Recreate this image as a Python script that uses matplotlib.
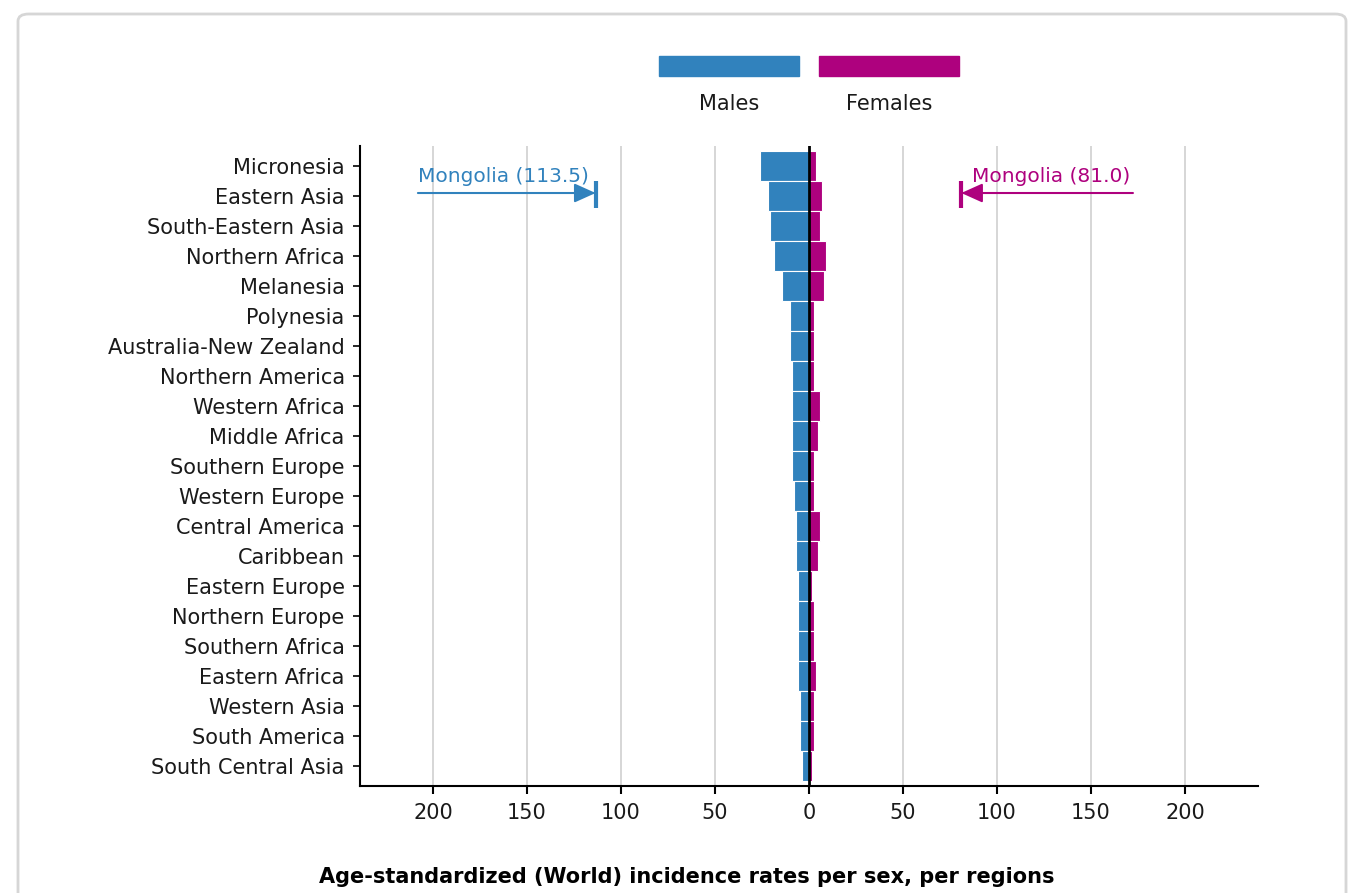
import matplotlib
matplotlib.use("Agg")
import matplotlib.pyplot as plt
from matplotlib.patches import FancyBboxPatch, Rectangle
import numpy as np

plt.rcParams['font.family'] = ['DejaVu Sans']

regions = ["Micronesia", "Eastern Asia", "South-Eastern Asia", "Northern Africa",
           "Melanesia", "Polynesia", "Australia-New Zealand", "Northern America",
           "Western Africa", "Middle Africa", "Southern Europe", "Western Europe",
           "Central America", "Caribbean", "Eastern Europe", "Northern Europe",
           "Southern Africa", "Eastern Africa", "Western Asia", "South America",
           "South Central Asia"]
males = [26.0, 21.8, 20.7, 18.6, 14.4, 10.1, 10.1, 9.0, 9.0, 9.0, 9.0,
         8.0, 6.9, 6.9, 5.9, 5.9, 5.9, 5.9, 4.8, 4.8, 3.7]
females = [3.7, 6.9, 5.9, 9.0, 8.0, 2.7, 2.7, 2.7, 5.9, 4.8, 2.7,
           2.7, 5.9, 4.8, 1.6, 2.7, 2.7, 3.7, 2.7, 2.7, 1.6]
xticks = [-200, -150, -100, -50, 0, 50, 100, 150, 200]
xticklabels = ["200", "150", "100", "50", "0", "50", "100", "150", "200"]
male_max_label = "Mongolia (113.5)"
male_max = 113.5
female_max_label = "Mongolia (81.0)"
female_max = 81.0

BLUE = "#3182bd"
MAG = "#ae017e"
W, H = 1350, 893
FS = 15

fig = plt.figure(figsize=(13.5, 8.93), dpi=100)
fig.patch.set_facecolor("white")

# outer card border
card = FancyBboxPatch((18 / W, -30 / H), (1346 - 18) / W, (879 + 30) / H,
                      boxstyle="round,pad=0,rounding_size=0.008",
                      transform=fig.transFigure, facecolor="white",
                      edgecolor="#d6d6d6", linewidth=2, zorder=-10)
fig.patches.append(card)

ax = fig.add_axes([360 / W, 1 - 786 / H, (1258 - 360) / W, (786 - 146) / H])
y = np.arange(len(regions))
ax.barh(y, [-m for m in males], height=1.0, color=BLUE, edgecolor="white",
        linewidth=0.8, zorder=3)
ax.barh(y, females, height=1.0, color=MAG, edgecolor="white",
        linewidth=0.8, zorder=3)

ax.set_xlim(-238.8, 238.8)
ax.set_ylim(len(regions) - 1 + 0.667, -0.667)
for t in xticks:
    if t != 0:
        ax.axvline(t, color="#cfcfcf", linewidth=1.2, zorder=1)
ax.axvline(0, color="black", linewidth=2, zorder=5)

ax.set_yticks(y)
ax.set_yticklabels(regions, fontsize=FS, color="#1a1a1a")
ax.set_xticks(xticks)
ax.set_xticklabels(xticklabels, fontsize=FS, color="#1a1a1a")
ax.tick_params(axis="y", length=5, width=1.2, pad=6)
ax.tick_params(axis="x", length=6, width=1.5, pad=6)
for s in ["top", "right"]:
    ax.spines[s].set_visible(False)
for s in ["left", "bottom"]:
    ax.spines[s].set_linewidth(1.5)
    ax.spines[s].set_color("black")

# annotations for off-scale values
ya = 0.9
arrow = "-|>,head_length=1.0,head_width=0.45"
ax.annotate("", xy=(-male_max, ya), xytext=(-208, ya),
            arrowprops=dict(arrowstyle=arrow, mutation_scale=13,
                            color=BLUE, lw=1.5, shrinkA=0, shrinkB=0), zorder=6)
ax.plot([-male_max, -male_max], [0.5, 1.4], color=BLUE, lw=3, zorder=6,
        solid_capstyle="butt")
ax.text(-208, 0.35, male_max_label, color=BLUE, fontsize=14.5,
        ha="left", va="center", zorder=6)

ax.annotate("", xy=(female_max, ya), xytext=(172.3, ya),
            arrowprops=dict(arrowstyle=arrow, mutation_scale=13,
                            color=MAG, lw=1.5, shrinkA=0, shrinkB=0), zorder=6)
ax.plot([female_max, female_max], [0.5, 1.4], color=MAG, lw=3, zorder=6,
        solid_capstyle="butt")
ax.text(86.5, 0.35, female_max_label, color=MAG, fontsize=14.5,
        ha="left", va="center", zorder=6)

# legend
fig.patches.append(Rectangle((659 / W, 1 - 76 / H), 140 / W, 20 / H,
                             transform=fig.transFigure, color=BLUE))
fig.patches.append(Rectangle((819 / W, 1 - 76 / H), 140 / W, 20 / H,
                             transform=fig.transFigure, color=MAG))
fig.text(729 / W, 1 - 104 / H, "Males", ha="center", va="center",
         fontsize=FS, color="#1a1a1a")
fig.text(889 / W, 1 - 104 / H, "Females", ha="center", va="center",
         fontsize=FS, color="#1a1a1a")

fig.text(687 / W, 1 - 877 / H,
         "Age-standardized (World) incidence rates per sex, per regions",
         ha="center", va="center", fontsize=FS, fontweight="bold",
         color="black")

fig.savefig("out.png", dpi=100)
